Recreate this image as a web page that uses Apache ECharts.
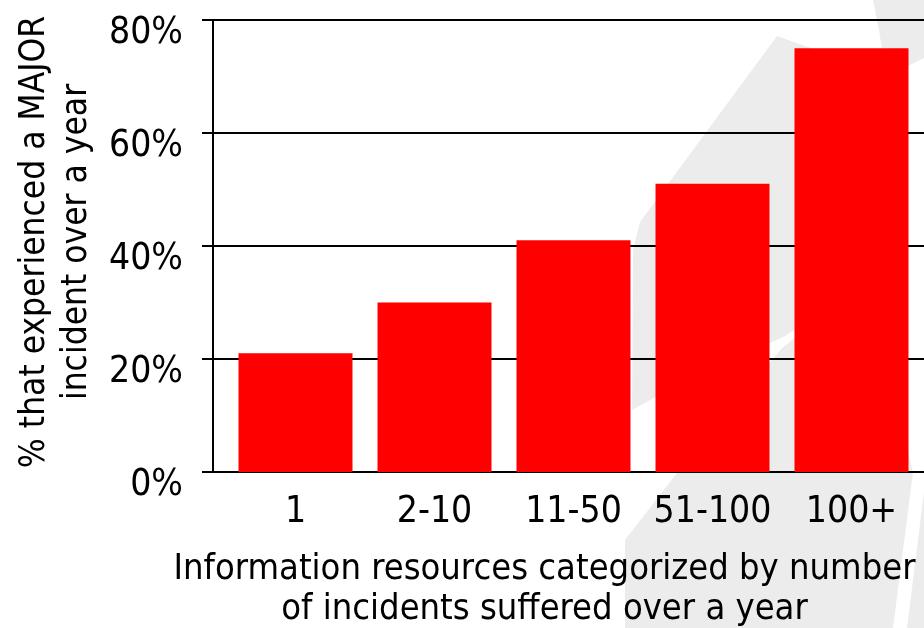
<!DOCTYPE html>
<html>
<head>
<meta charset="utf-8">
<title>Major incidents by incident count</title>
<script src="https://cdn.jsdelivr.net/npm/echarts@6/dist/echarts.min.js"></script>
<style>
  html, body { margin: 0; padding: 0; background: #ffffff; }
  #chart { width: 924px; height: 628px; }
</style>
</head>
<body>
<div id="chart"></div>
<script>
// Resource groups by number of incidents suffered over a year
const categories = ['1', '2-10', '11-50', '51-100', '100+'];
// Share (%) of resources in each group that experienced a MAJOR incident
const majorIncidentShare = [21, 30, 41, 51, 75];
// Value axis ticks (%)
const yTicks = [0, 20, 40, 60, 80];

const FONT = "'DejaVu Sans Condensed', 'DejaVu Sans', sans-serif";
const INK = '#000000';
const WATERMARK = '#ececec';

const chart = echarts.init(document.getElementById('chart'), null, { renderer: 'canvas' });

// Light grey backdrop shapes behind the plot
const backdrop = [
  [[873, 0], [924, 0], [924, 58], [908, 66], [882, 50], [879, 30]],
  [[777, 36], [822, 52], [800, 326], [785, 336], [770, 343], [656, 397], [632, 410], [633, 250], [640, 222]],
  [[625, 628], [625, 540], [677, 473], [782, 348], [800, 334], [870, 300], [913, 472], [893, 628]],
  [[907, 628], [924, 628], [924, 492]]
].map(pts => ({
  type: 'polygon',
  z: -100,
  silent: true,
  shape: { points: pts },
  style: { fill: WATERMARK }
}));

chart.setOption({
  animation: false,
  backgroundColor: '#ffffff',
  textStyle: { fontFamily: FONT, color: INK },
  graphic: backdrop,
  grid: [
    // frame grid: axis line, ticks and horizontal rules
    { left: 213, right: 0, top: 20, bottom: 156, containLabel: false, outerBoundsMode: 'none' },
    // bar grid
    { left: 226, right: 3, top: 20, bottom: 156, containLabel: false, outerBoundsMode: 'none' }
  ],
  xAxis: [
    { gridIndex: 0, type: 'category', data: categories, show: false },
    {
      gridIndex: 1,
      type: 'category',
      data: categories,
      axisLine: { show: false },
      axisTick: { show: false },
      axisLabel: { fontSize: 37, fontFamily: FONT, color: INK, margin: 22, interval: 0 },
      name: 'Information resources categorized by number\nof incidents suffered over a year',
      nameLocation: 'middle',
      nameGap: 78,
      nameTextStyle: {
        fontSize: 36, fontFamily: FONT, color: INK, lineHeight: 40,
        align: 'center', padding: [0, 58, 0, 0]
      }
    }
  ],
  yAxis: [
    {
      gridIndex: 0,
      type: 'value',
      min: yTicks[0],
      max: yTicks[yTicks.length - 1],
      interval: yTicks[1] - yTicks[0],
      axisLine: { show: true, lineStyle: { color: INK, width: 2 } },
      axisTick: { show: true, inside: false, length: 11, lineStyle: { color: INK, width: 2 } },
      splitLine: { show: true, lineStyle: { color: INK, width: 2 } },
      axisLabel: {
        fontSize: 37, fontFamily: FONT, color: INK, margin: 30,
        verticalAlign: 'top', lineHeight: 26,
        formatter: v => v + '%'
      },
      name: '% that experienced a MAJOR\nincident over a year',
      nameLocation: 'middle',
      nameRotate: 90,
      nameGap: 115,
      nameTextStyle: { fontSize: 35, fontFamily: FONT, color: INK, lineHeight: 42, padding: [0, 0, 0, 8] }
    },
    {
      gridIndex: 1,
      type: 'value',
      min: yTicks[0],
      max: yTicks[yTicks.length - 1],
      show: false
    }
  ],
  series: [
    {
      type: 'bar',
      xAxisIndex: 1,
      yAxisIndex: 1,
      data: majorIncidentShare,
      barCategoryGap: '18%',
      itemStyle: { color: '#ff0000' },
      z: 5
    }
  ]
});
</script>
</body>
</html>
